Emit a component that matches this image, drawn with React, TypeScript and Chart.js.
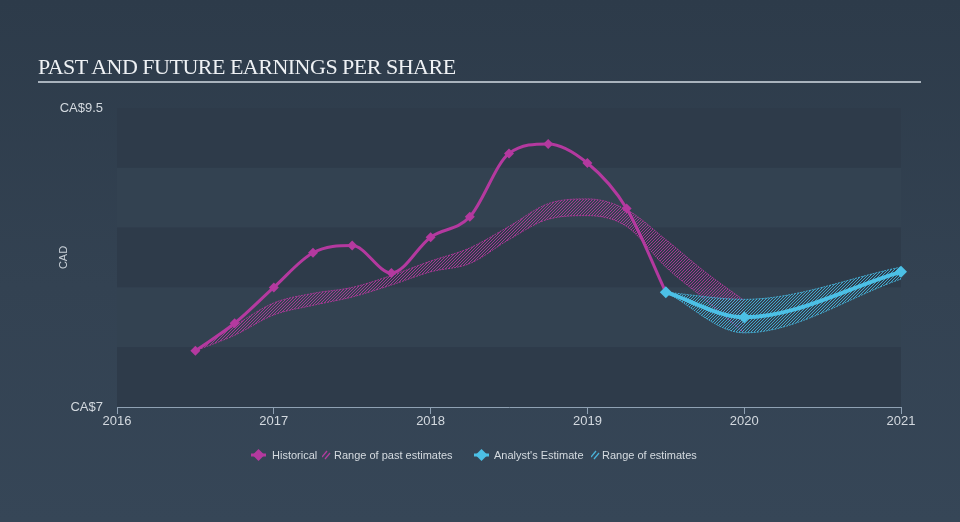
import React, { useEffect, useRef } from "react";
import { Chart, registerables } from "chart.js";

Chart.register(...registerables);

// ---- data ----
const histYears = [2016.5, 2016.75, 2017, 2017.25, 2017.5, 2017.75, 2018, 2018.25, 2018.5, 2018.75, 2019, 2019.25, 2019.5];
const histEps = [7.47, 7.7, 8.0, 8.29, 8.35, 8.12, 8.42, 8.59, 9.12, 9.2, 9.04, 8.66, 7.96];

const pastRangeYears = [2016.5, 2016.75, 2017, 2017.25, 2017.5, 2017.75, 2018, 2018.25, 2018.5, 2018.75, 2019, 2019.25, 2019.5, 2019.75, 2020];
const pastRangeHigh = [7.47, 7.68, 7.87, 7.95, 8.0, 8.1, 8.22, 8.33, 8.51, 8.7, 8.74, 8.65, 8.4, 8.13, 7.89];
const pastRangeLow = [7.47, 7.6, 7.77, 7.85, 7.92, 8.02, 8.13, 8.2, 8.4, 8.57, 8.6, 8.51, 8.17, 7.9, 7.62];

const estYears = [2019.5, 2020, 2021];
const estEps = [7.96, 7.75, 8.13];
const estHigh = [7.96, 7.9, 8.17];
const estLow = [7.96, 7.62, 8.07];

const xTickValues = [2016, 2017, 2018, 2019, 2020, 2021];
const yTickValues = [7, 9.5];
const yTickLabels = ["CA$7", "CA$9.5"];
const bandEdges = [9.5, 9, 8.5, 8, 7.5, 7];

const PINK = "#b4399f";
const BLUE = "#4cc0e6";
const PINK_HATCH = "rgba(185,55,160,0.85)";
const BLUE_HATCH = "rgba(70,185,225,0.85)";

function pts(xs: number[], ys: number[]) {
  return xs.map((x, i) => ({ x, y: ys[i] }));
}

function hatch(color: string) {
  const s = 3;
  const c = document.createElement("canvas");
  c.width = s;
  c.height = s;
  const g = c.getContext("2d")!;
  g.strokeStyle = color;
  g.lineWidth = 1;
  g.beginPath();
  g.moveTo(0, s);
  g.lineTo(s, 0);
  g.moveTo(-1, 1);
  g.lineTo(1, -1);
  g.moveTo(s - 1, s + 1);
  g.lineTo(s + 1, s - 1);
  g.stroke();
  return g.createPattern(c, "repeat")!;
}

const rowsPlugin = {
  id: "rows",
  beforeDraw(chart: any) {
    const { ctx, chartArea } = chart;
    const y = chart.scales.y;
    ctx.save();
    for (let i = 0; i < bandEdges.length - 1; i++) {
      const y0 = y.getPixelForValue(bandEdges[i]);
      const y1 = y.getPixelForValue(bandEdges[i + 1]);
      ctx.fillStyle = i % 2 === 0 ? "#2e3b4a" : "#334251";
      ctx.fillRect(chartArea.left, y0, chartArea.right - chartArea.left, y1 - y0);
    }
    ctx.restore();
  },
};

function ChartView() {
  const ref = useRef<HTMLCanvasElement>(null);
  useEffect(() => {
    const pinkHatch = hatch(PINK_HATCH);
    const blueHatch = hatch(BLUE_HATCH);
    const chart = new Chart(ref.current!, {
      type: "line",
      data: {
        datasets: [
          {
            label: "Analyst's Estimate",
            data: pts(estYears, estEps),
            borderColor: BLUE,
            backgroundColor: BLUE,
            borderWidth: 4,
            pointStyle: "rectRot",
            pointRadius: 6,
            pointBorderWidth: 0,
            cubicInterpolationMode: "monotone",
            fill: false,
            order: 0,
            clip: false,
          } as any,
          {
            label: "Historical",
            data: pts(histYears, histEps),
            borderColor: PINK,
            backgroundColor: PINK,
            borderWidth: 3,
            pointStyle: "rectRot",
            pointRadius: 5,
            pointBorderWidth: 0,
            cubicInterpolationMode: "monotone",
            fill: false,
            order: 1,
            clip: false,
          } as any,
          {
            label: "past high",
            data: pts(pastRangeYears, pastRangeHigh),
            borderColor: PINK_HATCH,
            borderWidth: 1,
            borderDash: [2, 1],
            pointRadius: 0,
            cubicInterpolationMode: "monotone",
            backgroundColor: pinkHatch,
            fill: "+1",
            order: 5,
          } as any,
          {
            label: "past low",
            data: pts(pastRangeYears, pastRangeLow),
            borderColor: PINK_HATCH,
            borderWidth: 1,
            borderDash: [2, 1],
            pointRadius: 0,
            cubicInterpolationMode: "monotone",
            fill: false,
            order: 5,
          } as any,
          {
            label: "est high",
            data: pts(estYears, estHigh),
            borderColor: BLUE_HATCH,
            borderWidth: 1,
            borderDash: [2, 1],
            pointRadius: 0,
            cubicInterpolationMode: "monotone",
            backgroundColor: blueHatch,
            fill: "+1",
            order: 4,
          } as any,
          {
            label: "est low",
            data: pts(estYears, estLow),
            borderColor: BLUE_HATCH,
            borderWidth: 1,
            borderDash: [2, 1],
            pointRadius: 0,
            cubicInterpolationMode: "monotone",
            fill: false,
            order: 4,
          } as any,
        ],
      },
      options: {
        animation: false,
        responsive: false,
        maintainAspectRatio: false,
        layout: { padding: { left: 0, right: 59, top: 108, bottom: 0 } },
        plugins: {
          legend: { display: false },
          tooltip: { enabled: false },
          title: { display: false },
        },
        scales: {
          x: {
            type: "linear",
            min: 2016,
            max: 2021,
            afterBuildTicks: (s: any) => {
              s.ticks = xTickValues.map((v) => ({ value: v }));
            },
            afterFit: (s: any) => {
              s.height = 115;
            },
            ticks: {
              color: "#d3d9df",
              font: { size: 13, family: "'Liberation Sans', Arial, sans-serif" },
              padding: 0,
              maxRotation: 0,
              autoSkip: false,
              callback: (v: any) => String(v),
            },
            grid: {
              display: true,
              drawOnChartArea: false,
              drawTicks: true,
              tickLength: 7,
              color: "#8fa1b3",
              lineWidth: 1,
            },
            border: { display: true, color: "#8fa1b3", width: 1 },
          },
          y: {
            type: "linear",
            min: 7,
            max: 9.5,
            afterBuildTicks: (s: any) => {
              s.ticks = yTickValues.map((v) => ({ value: v }));
            },
            afterFit: (s: any) => {
              s.width = 117;
            },
            ticks: {
              color: "#d3d9df",
              font: { size: 13, family: "'Liberation Sans', Arial, sans-serif" },
              padding: 14,
              autoSkip: false,
              callback: (v: any) => {
                const i = yTickValues.indexOf(Number(v));
                return i >= 0 ? yTickLabels[i] : "";
              },
            },
            grid: { display: false, drawTicks: false },
            border: { display: false },
            title: {
              display: true,
              text: "CAD",
              color: "#c9d0d7",
              font: { size: 11, family: "'Liberation Sans', Arial, sans-serif" },
              padding: { top: 57, bottom: 0 },
            },
          },
        },
      } as any,
      plugins: [rowsPlugin],
    });
    return () => chart.destroy();
  }, []);
  return <canvas ref={ref} width={960} height={522} style={{ display: "block", position: "absolute", left: 0, top: 0 }} />;
}

function DiamondIcon({ color }: { color: string }) {
  return (
    <svg width="15" height="12" style={{ position: "absolute" }}>
      <line x1="0" y1="6" x2="15" y2="6" stroke={color} strokeWidth="3" />
      <polygon points="7.5,0 13.5,6 7.5,12 1.5,6" fill={color} />
    </svg>
  );
}

function HatchIcon({ color }: { color: string }) {
  return (
    <svg width="9" height="10" style={{ position: "absolute" }}>
      <line x1="0" y1="7" x2="5" y2="1" stroke={color} strokeWidth="1.3" />
      <line x1="3" y1="9" x2="8" y2="3" stroke={color} strokeWidth="1.3" />
    </svg>
  );
}

const legendText: React.CSSProperties = {
  position: "absolute",
  top: 447,
  fontSize: 11,
  lineHeight: "16px",
  color: "#d5dbe0",
  fontFamily: "'Liberation Sans', Arial, sans-serif",
  whiteSpace: "nowrap",
};

export default function App() {
  return (
    <div
      style={{
        position: "absolute",
        left: 0,
        top: 0,
        width: 960,
        height: 522,
        overflow: "hidden",
        background: "linear-gradient(180deg, #2d3b4a 0%, #334252 55%, #364657 100%)",
      }}
    >
      <ChartView />
      <div
        style={{
          position: "absolute",
          left: 38,
          top: 56,
          fontFamily: "'Liberation Serif', 'Times New Roman', serif",
          fontSize: 22,
          lineHeight: "22px",
          letterSpacing: "-0.5px",
          color: "#eef1f4",
          whiteSpace: "nowrap",
        }}
      >
        PAST AND FUTURE EARNINGS PER SHARE
      </div>
      <div style={{ position: "absolute", left: 38, top: 81, width: 883, height: 2, background: "#a9b3bd" }} />
      <div style={{ position: "absolute", left: 251, top: 449 }}>
        <DiamondIcon color={PINK} />
      </div>
      <span style={{ ...legendText, left: 272 }}>Historical</span>
      <div style={{ position: "absolute", left: 322, top: 450 }}>
        <HatchIcon color="rgba(190,60,165,0.9)" />
      </div>
      <span style={{ ...legendText, left: 334 }}>Range of past estimates</span>
      <div style={{ position: "absolute", left: 474, top: 449 }}>
        <DiamondIcon color={BLUE} />
      </div>
      <span style={{ ...legendText, left: 494 }}>Analyst's Estimate</span>
      <div style={{ position: "absolute", left: 591, top: 450 }}>
        <HatchIcon color="rgba(75,190,230,0.9)" />
      </div>
      <span style={{ ...legendText, left: 602 }}>Range of estimates</span>
    </div>
  );
}
